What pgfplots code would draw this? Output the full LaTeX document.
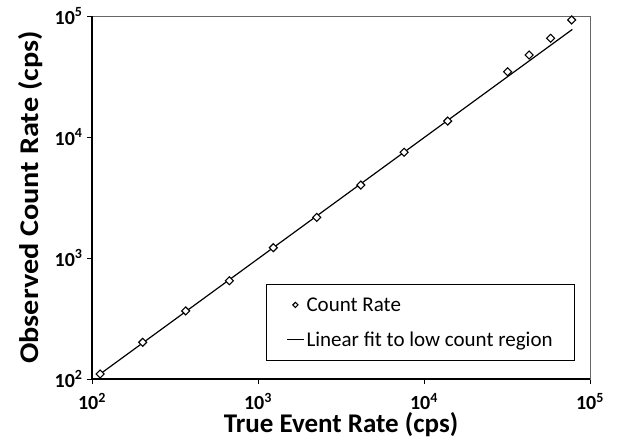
\documentclass[border=0pt]{standalone}
\usepackage{fontspec}
\setmainfont{Carlito}
\usepackage{pgfplots}
\pgfplotsset{compat=1.18}
\pgfdeclareplotmark{sqdiamond}{%
  \pgfpathmoveto{\pgfqpoint{0pt}{\pgfplotmarksize}}%
  \pgfpathlineto{\pgfqpoint{\pgfplotmarksize}{0pt}}%
  \pgfpathlineto{\pgfqpoint{0pt}{-\pgfplotmarksize}}%
  \pgfpathlineto{\pgfqpoint{-\pgfplotmarksize}{0pt}}%
  \pgfpathclose
  \pgfusepathqfillstroke}
\begin{document}
\begin{tikzpicture}
\begin{axis}[
  at={(0pt,0pt)}, anchor=south west,
  scale only axis, width=498pt, height=363pt,
  xmode=log, ymode=log,
  xmin=100, xmax=100000, ymin=100, ymax=100000,
  xtick={100,1000,10000,100000}, ytick={100,1000,10000,100000},
  xminorticks=false, yminorticks=false,
  xtick pos=bottom, ytick pos=left,
  tick align=outside, major tick length=5pt,
  tick style={black, line width=0.8pt},
  axis line style={draw=black!60, line width=0.8pt},
  ticklabel style={font=\fontsize{20}{24}\selectfont\bfseries},
  /pgf/number format/assume math mode=true,
  xticklabels={10\textsuperscript{2},10\textsuperscript{3},10\textsuperscript{4},10\textsuperscript{5}},
  yticklabels={10\textsuperscript{2},10\textsuperscript{3},10\textsuperscript{4},10\textsuperscript{5}},
  xticklabel style={anchor=base, yshift=-26pt, inner sep=1pt},
  yticklabel style={xshift=-1pt},
  xlabel={True Event Rate (cps)},
  ylabel={\scalebox{1.12}[1]{Observed Count Rate (cps)}},
  label style={font=\fontsize{27}{32}\selectfont\bfseries, inner sep=0pt},
  xlabel style={at={(axis description cs:0.5,0)}, anchor=base, yshift=-54pt},
  ylabel style={at={(axis description cs:0,0.5)}, anchor=south, yshift=49pt},
  legend style={at={(rel axis cs:0.970,0.0496)}, anchor=south east,
    draw=black, line width=0.8pt, font=\fontsize{21}{25}\selectfont,
    inner xsep=20pt, inner ysep=11pt, row sep=15pt},
  legend cell align=left,
  extra description/.code={
    \draw[black, line width=1.6pt] (rel axis cs:0,1) -- (rel axis cs:0,0) -- (rel axis cs:1,0);
  },
]
\addplot[only marks, mark=sqdiamond, mark size=4pt, mark options={line width=1.1pt, fill=white, draw=black},
  legend image post style={mark size=2.6pt}]
  coordinates {
  (112,110) (202,201) (367,365) (672,649) (1236,1216) (2260,2168)
  (4159,4009) (7586,7480) (13900,13550) (31900,34660) (43000,47600)
  (57900,65400) (77600,92700)
  };
\addlegendentry{Count Rate}
\addplot[black, line width=1.2pt, no marks]
  coordinates {(112,110) (78300,77500)};
\addlegendentry{Linear fit to low count region}
\end{axis}
\path (-92pt,-68pt) rectangle (527pt,379pt);
\end{tikzpicture}
\end{document}
